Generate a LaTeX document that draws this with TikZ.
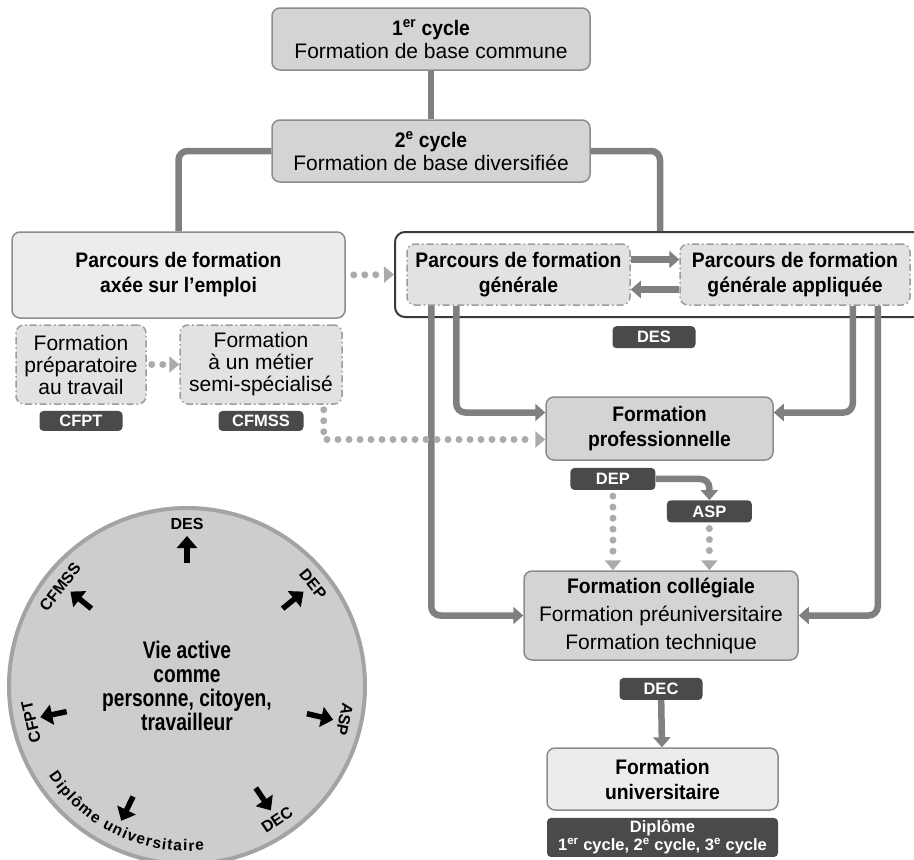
\documentclass[tikz,border=0pt]{standalone}
\usepackage{fontspec}
\setmainfont{Liberation Sans}
\newfontfamily\titrefont{Liberation Sans}[FakeStretch=0.92]
\newfontfamily\etroitfont{Liberation Sans}[FakeStretch=0.8]
\usetikzlibrary{positioning}
\usetikzlibrary{arrows.meta}
\usetikzlibrary{decorations.text}
\definecolor{grismoyen}{HTML}{D4D4D4}
\definecolor{grisclair}{HTML}{ECECEC}
\definecolor{gristiret}{HTML}{E2E2E2}
\definecolor{bordgris}{HTML}{8C8C8C}
\definecolor{bordtiret}{HTML}{9C9C9C}
\definecolor{cadrenoir}{HTML}{3A3A3A}
\definecolor{trait}{HTML}{808080}
\definecolor{point}{HTML}{ABABAB}
\definecolor{grisfonce}{HTML}{4A4A4A}
\definecolor{fondrond}{HTML}{CDCDCD}
\definecolor{bordrond}{HTML}{A3A3A3}
\newcommand{\titre}{\titrefont\bfseries}

\begin{document}
\begin{tikzpicture}[x=1pt, y=1pt, >={Triangle[length=10pt,width=17pt]},
  every node/.style={font=\fontsize{21}{23}\selectfont},
  boite/.style={rectangle, rounded corners=8pt, draw=bordgris, line width=1.5pt, fill=grismoyen, align=center, inner sep=0pt},
  boiteclaire/.style={boite, fill=grisclair},
  boitetiret/.style={boite, fill=gristiret, draw=bordtiret, dash pattern=on 7pt off 3pt on 1.5pt off 3pt},
  cadre/.style={rectangle, rounded corners=10pt, draw=cadrenoir, line width=2pt, fill=white, minimum width=530pt, minimum height=85pt},
  etiquette/.style={rectangle, rounded corners=4pt, fill=grisfonce, text=white, align=center, inner sep=0pt, minimum width=83pt, minimum height=22pt, font=\bfseries\fontsize{16.5}{18}\selectfont},
  lien/.style={draw=trait, line width=6.5pt, rounded corners=9pt},
  fleche/.style={lien, ->},
  pointille/.style={draw=point, line width=7pt, line cap=round, dash pattern=on 0pt off 11pt, ->, >={Triangle[length=10pt,width=16pt]}},
  noire/.style={line width=5.5pt, -{Triangle[length=12pt,width=20pt]}},
  rond/.style={font=\bfseries\fontsize{16}{16}\selectfont, inner sep=0pt}]

  \useasboundingbox (0,0) rectangle (914,-860);

  \node[boite, minimum width=318pt, minimum height=62pt] (c1) at (431,-39) {{\titre 1\textsuperscript{er} cycle}\\Formation de base commune};
  \node[boite, minimum width=318pt, minimum height=62pt] (c2) at (431,-151) {{\titre 2\textsuperscript{e} cycle}\\Formation de base diversifiée};
  \node[boiteclaire, minimum width=333pt, minimum height=86pt, font=\titre\fontsize{21}{25}\selectfont] (emploi) at (178.5,-275) {Parcours de formation\\axée sur l’emploi};
  \node[cadre] (cadre) at (660,-274.5) {};
  \node[boitetiret, minimum width=223pt, minimum height=61pt, font=\titre\fontsize{21}{25}\selectfont] (gen) at (518.5,-274.5) {Parcours de formation\\générale};
  \node[boitetiret, minimum width=230pt, minimum height=61pt, font=\titre\fontsize{21}{25}\selectfont] (genapp) at (795,-274.5) {Parcours de formation\\générale appliquée};
  \node[etiquette, below=8pt of cadre, xshift=-6pt] (des) {DES};

  \node[boitetiret, minimum width=130pt, minimum height=79pt, font=\fontsize{21}{22}\selectfont] (prep) at (81,-364.5) {Formation\\préparatoire\\au travail};
  \node[boitetiret, minimum width=162pt, minimum height=79pt, font=\fontsize{21}{22}\selectfont] (metier) at (261,-364.5) {Formation\\à un métier\\semi-spécialisé};
  \node[etiquette, minimum height=20pt, below=6pt of prep] (cfpt) {CFPT};
  \node[etiquette, minimum width=85pt, minimum height=20pt, below=6pt of metier] (cfmss) {CFMSS};

  \node[boite, minimum width=227pt, minimum height=63pt, font=\titre\fontsize{21}{25}\selectfont] (fp) at (659.5,-428.5) {Formation\\professionnelle};
  \node[etiquette, minimum width=85pt, below right=7pt and 25pt of fp.south west] (dep) {DEP};
  \node[etiquette, minimum width=85pt, below right=10pt and 11pt of dep.south east] (asp) {ASP};

  \node[boite, minimum width=274pt, minimum height=89pt] (fc) at (661,-615.5) {{\titre Formation collégiale}\\[5pt]Formation préuniversitaire\\[5pt]Formation technique};
  \node[etiquette, below=17pt of fc] (dec) {DEC};
  \node[boiteclaire, minimum width=231pt, minimum height=62pt, font=\titre\fontsize{21}{25}\selectfont] (fu) at (662.5,-779) {Formation\\universitaire};
  \node[etiquette, minimum width=231pt, minimum height=39pt, font=\bfseries\fontsize{16.5}{18}\selectfont, below=7pt of fu] (dipl) {Diplôme\\1\textsuperscript{er} cycle, 2\textsuperscript{e} cycle, 3\textsuperscript{e} cycle};

  % liens
  \draw[lien] (c1) -- (c2);
  \draw[lien] (c2.west) -| (emploi.north);
  \draw[lien] (c2.east) -| (cadre.north);
  \draw[fleche] ([yshift=15pt]gen.east) -- ([yshift=15pt]genapp.west);
  \draw[fleche] ([yshift=-15pt]genapp.west) -- ([yshift=-15pt]gen.east);
  \draw[fleche] ([xshift=50pt]gen.south west) |- ([yshift=16pt]fp.west);
  \draw[fleche] ([xshift=25pt]gen.south west) |- (fc.west);
  \draw[fleche] ([xshift=-58pt]genapp.south east) |- ([yshift=16pt]fp.east);
  \draw[fleche] ([xshift=-33pt]genapp.south east) |- (fc.east);
  \draw[fleche] (dep.east) -| (asp.north);
  \draw[fleche] (dec) -- (fu);

  \draw[pointille, shorten <=8pt] (emploi.east) -- (cadre.west);
  \draw[pointille, shorten <=5pt] (prep.east) -- (metier.west);
  \draw[pointille, shorten <=5pt] ([xshift=-19pt]metier.south east) |- ([yshift=-11pt]fp.west);
  \draw[pointille, shorten <=6pt] (dep.south) -- (dep.south |- fc.north);
  \draw[pointille, shorten <=6pt] (asp.south) -- (asp.south |- fc.north);

  % vie active
  \node[circle, draw=bordrond, line width=4pt, fill=fondrond, minimum size=356pt, align=center,
    font=\etroitfont\bfseries\fontsize{24}{24}\selectfont] (vie) at (187,-686) {Vie active\\comme\\personne, citoyen,\\travailleur};
  \begin{scope}[shift={(vie.center)}]
    \draw[noire] (90:123) -- (90:150);
    \draw[noire] (39:123) -- (39:150);
    \draw[noire] (-13:123) -- (-13:150);
    \draw[noire] (-56:123) -- (-56:150);
    \draw[noire] (-116:123) -- (-116:150);
    \draw[noire] (-168:123) -- (-168:150);
    \draw[noire] (141:123) -- (141:150);
    \node[rond] (vdes) at (90:162) {DES};
    \node[rond, rotate=-51] (vdep) at (39:162) {DEP};
    \node[rond, rotate=-102] (vasp) at (-12:161) {ASP};
    \node[rond, rotate=34] (vdec) at (-56:161) {DEC};
    \node[rond, rotate=103] (vcfpt) at (-167:160) {CFPT};
    \node[rond, rotate=52] (vcfmss) at (142:161) {CFMSS};
    \path[decorate, decoration={text along path, text align=fit to path,
      text={|\bfseries\fontsize{15.5}{16}\selectfont|Diplôme universitaire}}]
      (-147:165) arc[start angle=-147, end angle=-84, radius=165];
  \end{scope}
\end{tikzpicture}
\end{document}
